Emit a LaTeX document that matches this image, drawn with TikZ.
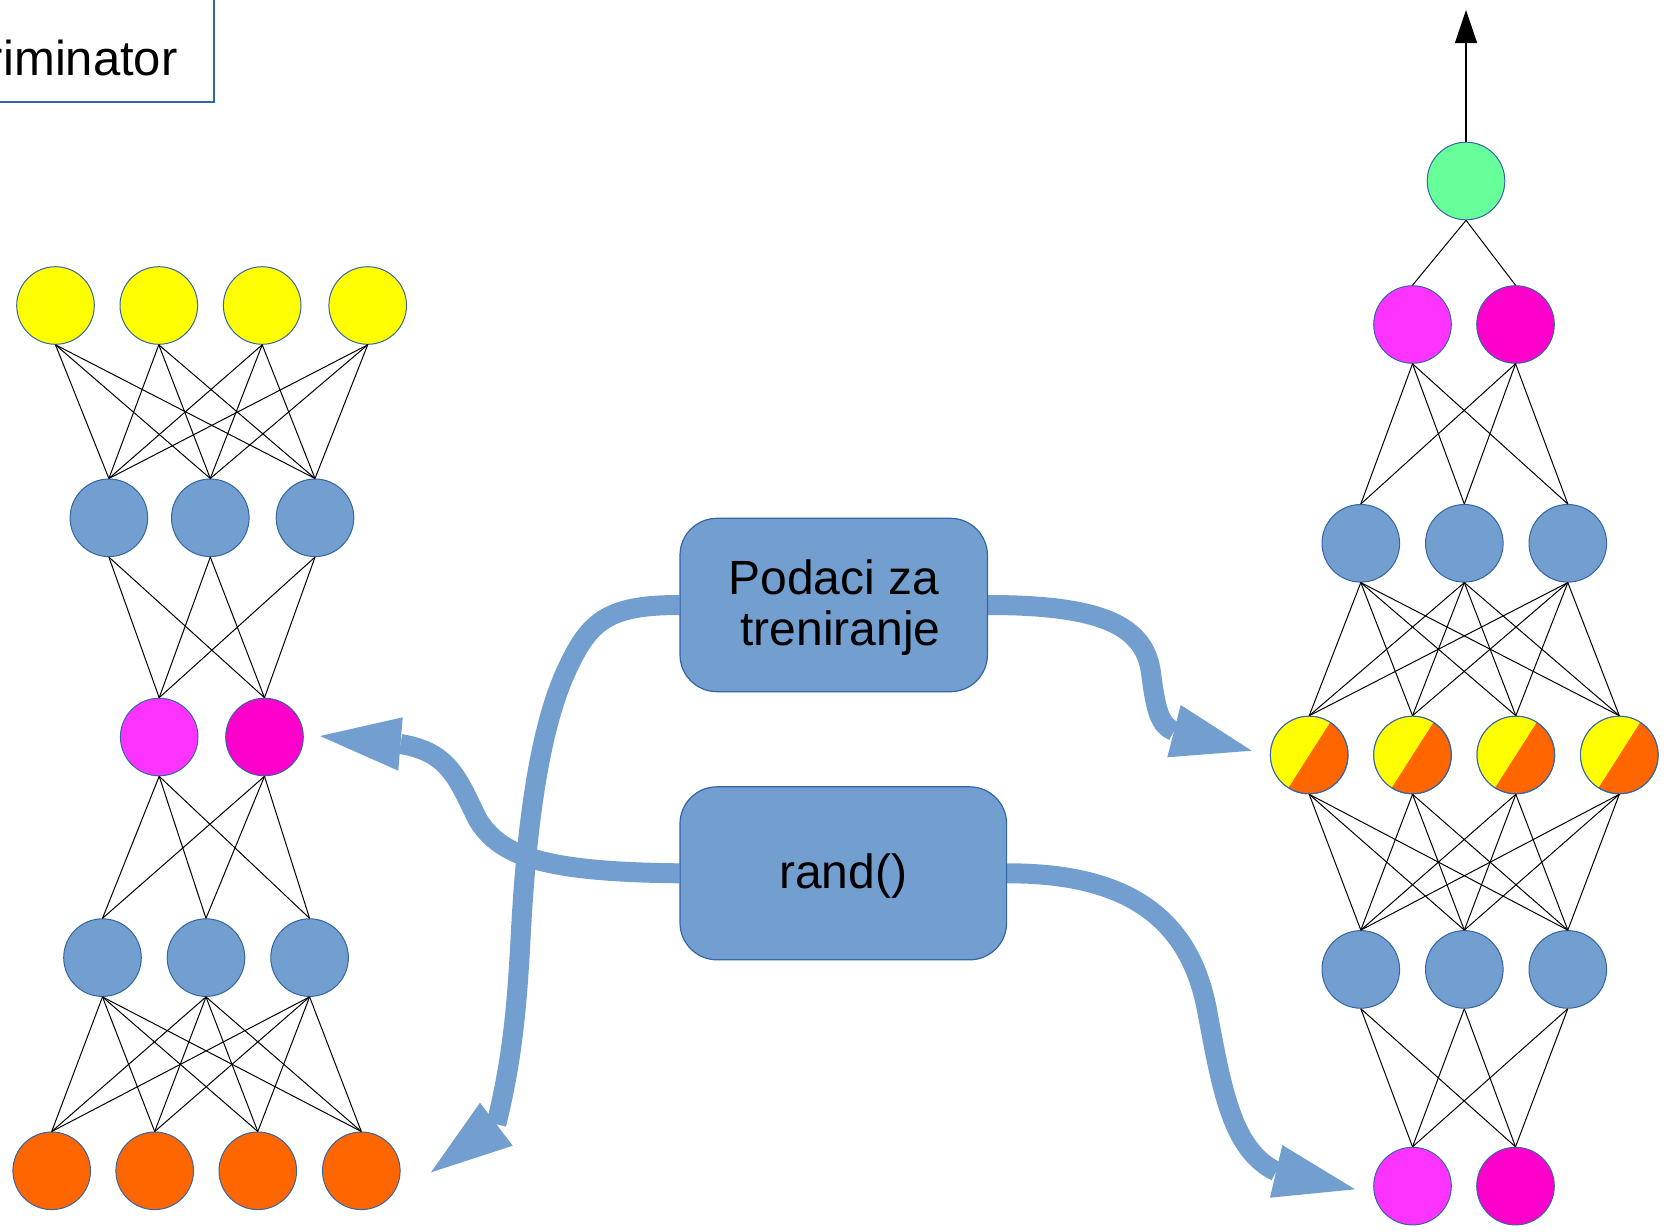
\documentclass[tikz,border=0pt]{standalone}
\usepackage{fontspec}
\setmainfont{Liberation Sans}
\usetikzlibrary{arrows.meta,backgrounds}
\definecolor{nodeblue}{HTML}{729FCF}
\definecolor{edgeblue}{HTML}{3465A4}
\definecolor{nyellow}{HTML}{FFFF00}
\definecolor{norange}{HTML}{FF6600}
\definecolor{pinkA}{HTML}{FF33FF}
\definecolor{pinkB}{HTML}{FF00CC}
\definecolor{mint}{HTML}{66FF99}
\begin{document}
\begin{tikzpicture}[x=0.5pt,y=-0.5pt,
  neuron/.style={circle, draw=edgeblue, line width=0.5pt, minimum size=38.8pt, inner sep=0pt},
  link/.style={draw=black, line width=0.5pt},
  flow/.style={draw=nodeblue, line width=10pt},
  flowhead/.style={fill=nodeblue},
  flowbox/.style={rounded corners=18.5pt, fill=nodeblue, draw=edgeblue, line width=0.6pt,
    align=center, inner sep=0pt, font=\fontsize{24}{25.5}\selectfont}
]
\useasboundingbox (0,0) rectangle (1674,1231);
\clip (0,0) rectangle (1674,1231);

% ---------- title box ----------
\draw[edgeblue, line width=0.75pt] (-300,-20) rectangle (214,102);
\node[anchor=base east, inner sep=0pt, font=\fontsize{24.5}{28}\selectfont] (disctext) at (178,75) {Discriminator};

% ---------- left network ----------
\foreach \n/\x in {a/55.5, b/158.8, c/262.2, d/367.7}
  \node[neuron, fill=nyellow] (La\n) at (\x,305.5) {};
\foreach \n/\x in {a/108.9, b/210.3, c/315}
  \node[neuron, fill=nodeblue] (Lb\n) at (\x,517.8) {};
\node[neuron, fill=pinkA] (Lca) at (159.2,737) {};
\node[neuron, fill=pinkB] (Lcb) at (264.5,737) {};
\foreach \n/\x in {a/102.5, b/206, c/309.6}
  \node[neuron, fill=nodeblue] (Ld\n) at (\x,957.6) {};
\foreach \n/\x in {a/51.7, b/154.7, c/257.8, d/361.3}
  \node[neuron, fill=norange] (Le\n) at (\x,1170.8) {};

\foreach \i in {a,b,c,d} \foreach \j in {a,b,c}
  \draw[link] (La\i.south) -- (Lb\j.north);
\foreach \i in {a,b,c} \foreach \j in {a,b}
  \draw[link] (Lb\i.south) -- (Lc\j.north);
\foreach \i in {a,b} \foreach \j in {a,b,c}
  \draw[link] (Lc\i.south) -- (Ld\j.north);
\foreach \i in {a,b,c} \foreach \j in {a,b,c,d}
  \draw[link] (Ld\i.south) -- (Le\j.north);

% ---------- right network ----------
\node[neuron, fill=mint] (Ro) at (1466,181) {};
\coordinate (Rout) at (1466,10);
\node[neuron, fill=pinkA] (Raa) at (1412.5,324.5) {};
\node[neuron, fill=pinkB] (Rab) at (1515.5,324.5) {};
\foreach \n/\x in {a/1360.8, b/1464.3, c/1567.8}
  \node[neuron, fill=nodeblue] (Rb\n) at (\x,543.3) {};
\foreach \n/\x in {a/1309.2, b/1412.5, c/1515.8, d/1619.3}{
  \node[neuron, fill=norange] (Rc\n) at (\x,755) {};
  \fill[nyellow] (Rc\n.center) ++(-57.5:38.8) arc[start angle=-57.5, end angle=-237.5, radius=38.8] -- cycle;
  \draw[edgeblue, line width=0.5pt] (Rc\n.center) circle[radius=38.8];
}
\foreach \n/\x in {a/1360.8, b/1464.3, c/1567.8}
  \node[neuron, fill=nodeblue] (Rd\n) at (\x,969.4) {};
\node[neuron, fill=pinkA] (Rea) at (1412.5,1186.1) {};
\node[neuron, fill=pinkB] (Reb) at (1515.5,1186.1) {};

\draw[line width=0.7pt, -{Triangle[length=16.5pt, width=11pt]}] (Ro.north) -- (Rout);
\foreach \j in {a,b}
  \draw[link] (Ro.south) -- (Ra\j.north);
\foreach \i in {a,b} \foreach \j in {a,b,c}
  \draw[link] (Ra\i.south) -- (Rb\j.north);
\foreach \i in {a,b,c} \foreach \j in {a,b,c,d}
  \draw[link] (Rb\i.south) -- (Rc\j.north);
\foreach \i in {a,b,c,d} \foreach \j in {a,b,c}
  \draw[link] (Rc\i.south) -- (Rd\j.north);
\foreach \i in {a,b,c} \foreach \j in {a,b}
  \draw[link] (Rd\i.south) -- (Re\j.north);

% ---------- data flow boxes ----------
\node[flowbox, minimum width=153.7pt, minimum height=86.7pt] (data) at (833.7,605)
  {\raisebox{-2.5pt}[\height][\depth]{\begin{tabular}{@{}c@{}}Podaci za\\ \hspace{0.278em}treniranje\end{tabular}}};
\node[flowbox, minimum width=163.3pt, minimum height=86.5pt] (noise) at (843.3,873.3)
  {\raisebox{-1.5pt}[\height][\depth]{rand()}};

\coordinate (tipA) at (431,1172.3);
\coordinate (tipB) at (1251.7,750.7);
\coordinate (tipC) at (320,736);
\coordinate (tipD) at (1355,1189.3);

\begin{scope}[on background layer]
% training data -> bottom of the left network
\draw[flow] (data.west) .. controls (605,605) and (588,622) .. (564,676)
  .. controls (540,732) and (527,820) .. (521,930)
  .. controls (517,1010) and (512,1060) .. (496.3,1124.2);
\fill[flowhead] (tipA) -- (480,1102.7) -- (512.7,1145.7) -- cycle;
% training data -> middle layer of the right network
\draw[flow] (data.east) .. controls (1100,605) and (1145,625) .. (1151,673)
  .. controls (1156,712) and (1160,725) .. (1174,731.2);
\fill[flowhead] (tipB) -- (1180.7,705) -- (1167.3,757.3) -- cycle;
% noise -> code layer of the left network
\draw[flow] (noise.west) .. controls (540,872) and (500,855) .. (478,820)
  .. controls (458,780) and (450,752) .. (400.5,744);
\fill[flowhead] (tipC) -- (402.7,717.3) -- (398.3,770.7) -- cycle;
% noise -> input of the right network
\draw[flow] (noise.east) .. controls (1130,873) and (1190,920) .. (1207,1010)
  .. controls (1222,1090) and (1232,1150) .. (1276.2,1171.4);
\fill[flowhead] (tipD) -- (1282.3,1145) -- (1270,1197.7) -- cycle;
\end{scope}
\end{tikzpicture}
\end{document}
